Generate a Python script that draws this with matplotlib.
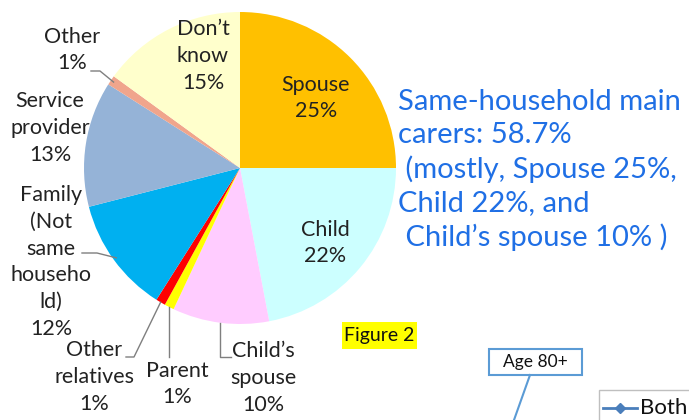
import numpy as np
import matplotlib
matplotlib.use("Agg")
import matplotlib.pyplot as plt
from matplotlib.patches import Rectangle

plt.rcParams['font.family'] = ['Lato', 'DejaVu Sans']

# main carer of people aged 80+, share of respondents (%)
carers = ["Spouse", "Child", "Child’s\nspouse", "Parent", "Other\nrelatives",
          "Family\n(Not\nsame\nhouseho\nld)", "Service\nprovider", "Other", "Don’t\nknow"]
shares = [25, 22, 10, 1, 1, 12, 13, 1, 15]
colours = ["#FFC000", "#CCFFFF", "#FFCCFF", "#FFFF00", "#FF0000",
           "#00B0F0", "#95B3D7", "#F0A58C", "#FFFFCC"]

note_lines = ["Same-household main", "carers: 58.7%", " (mostly, Spouse 25%,",
              "Child 22%, and", " Child’s spouse 10% )"]

H = 420
def py(y):
    # pixel row -> data y
    return H - y

fig = plt.figure(figsize=(6.89, 4.2), dpi=100)
ax = fig.add_axes([0, 0, 1, 1])

cx, cy, r = 240, 168, 156
wedges, _ = ax.pie(shares, colors=colours, startangle=90, counterclock=False,
                   center=(cx, py(cy)), radius=r, frame=True,
                   wedgeprops=dict(linewidth=0))

ax.set_xlim(0, 689)
ax.set_ylim(0, H)
ax.set_aspect('equal')
ax.axis('off')

# label centres (pixels) for each slice
label_pos = [(316, 98), (325, 243), (263, 378), (177, 384), (94, 377),
             (51, 262), (50, 128), (72, 50), (203, 56)]
for name, val, (x, y) in zip(carers, shares, label_pos):
    ax.text(x, py(y), f"{name}\n{val}%", ha='center', va='center',
            fontsize=15.5, linespacing=1.42, color='#222222')


def edge_point(w, frac=1.0):
    a = np.deg2rad((w.theta1 + w.theta2) / 2)
    return cx + frac * r * np.cos(a), py(cy) + frac * r * np.sin(a)

leader = dict(color='#7F7F7F', linewidth=1.0)
# Other
ex, ey = edge_point(wedges[7], 0.98)
ax.plot([91, 100, ex], [py(71), py(71), ey], **leader)
# Family
ex, ey = edge_point(wedges[5], 0.98)
ax.plot([82, 97, ex], [py(253), py(253), ey], **leader)
# Other relatives
ex, ey = edge_point(wedges[4], 1.0)
ax.plot([126, 134, ex], [py(357), py(357), ey], **leader)
# Parent
ex, ey = edge_point(wedges[3], 1.0)
ax.plot([ex, ex], [ey, py(357)], **leader)
# Child's spouse
ex, ey = edge_point(wedges[2], 1.0)
ax.plot([ex, ex, 231], [ey, py(357), py(357)], **leader)

ax.text(398, py(170), "\n".join(note_lines), ha='left', va='center',
        fontsize=21, linespacing=1.33, color='#1F6FE5')

# Figure 2 tag
ax.add_patch(Rectangle((342, py(349)), 75, 27, facecolor='#FFFF00', edgecolor='none'))
ax.text(379, py(336), "Figure 2", ha='center', va='center', fontsize=14, color='#111111')

# Age 80+ callout from the chart below
ax.add_patch(Rectangle((489, py(375)), 93, 26, facecolor='white',
                       edgecolor='#5B9BD5', linewidth=1.5))
ax.text(535, py(362), "Age 80+", ha='center', va='center', fontsize=12.5, color='#111111')
ax.plot([530, 514], [py(375), py(420)], color='#5B9BD5', linewidth=1.5)

# legend fragment
ax.add_patch(Rectangle((599, py(425)), 100, 35, facecolor='white',
                       edgecolor='#BFBFBF', linewidth=1))
ax.plot([603, 637], [py(408), py(408)], color='#4A7EBB', linewidth=2)
ax.plot([620], [py(408)], marker='D', markersize=5, color='#4A7EBB')
ax.text(640, py(408), "Both", ha='left', va='center', fontsize=16, color='#111111')

fig.savefig("out.png", dpi=100)
